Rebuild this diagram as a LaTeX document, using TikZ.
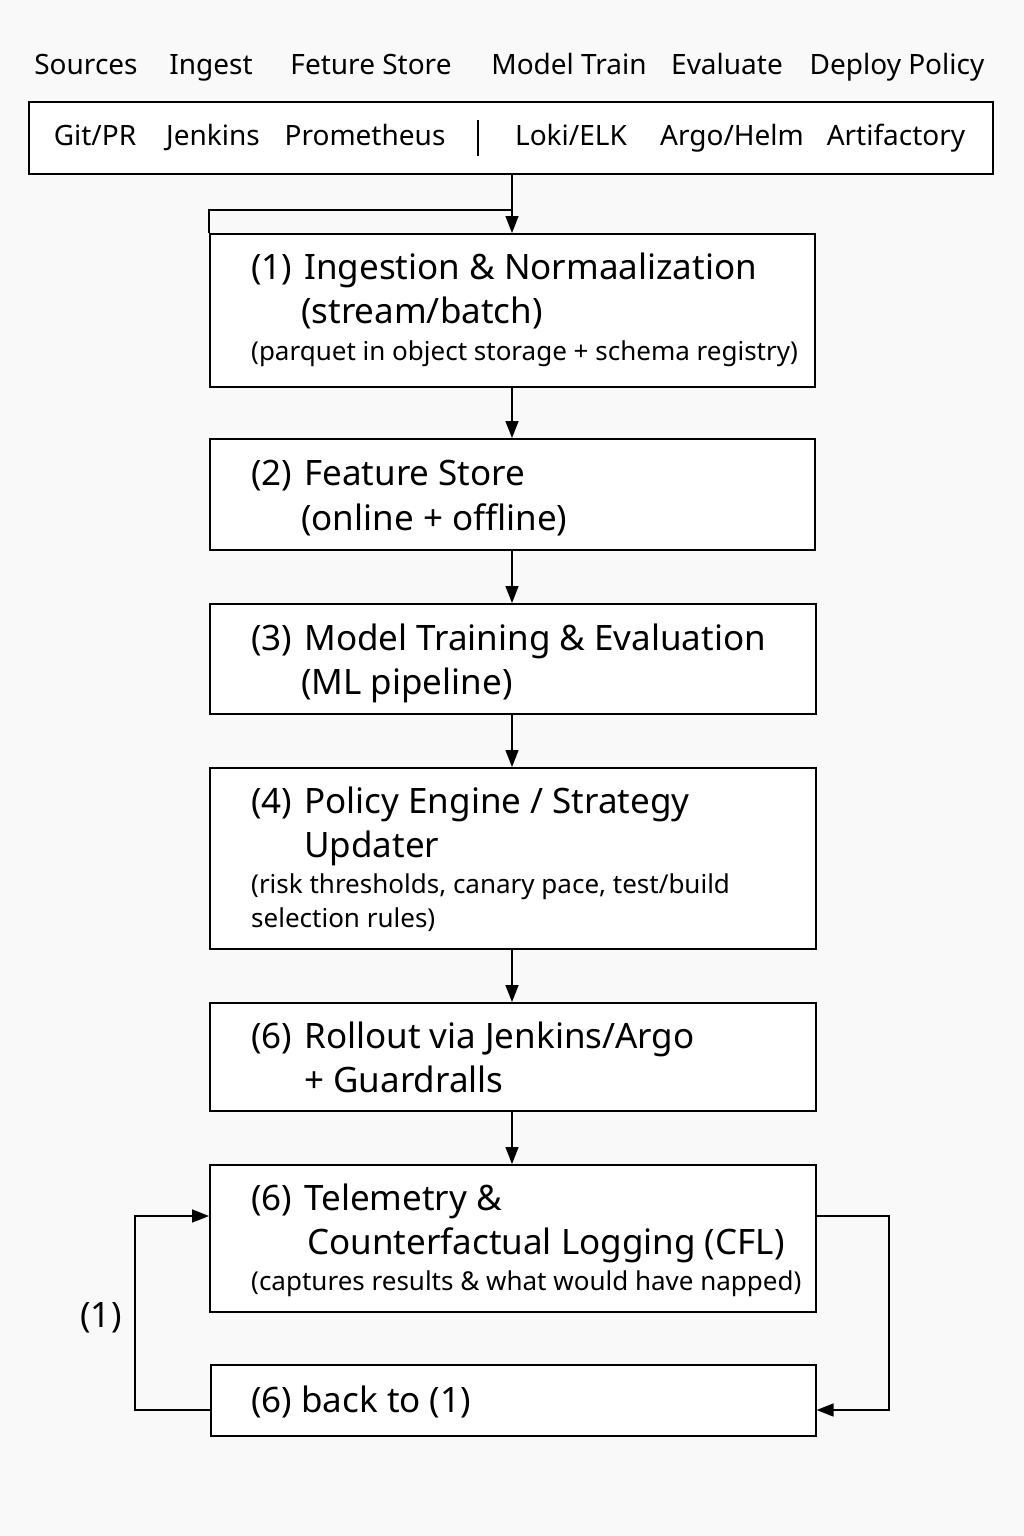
\documentclass[tikz,border=0pt]{standalone}
\usepackage{fontspec}
\setmainfont{Noto Sans}
\usetikzlibrary{arrows.meta}
\definecolor{bgc}{HTML}{F9F9F9}
\tikzset{
  box/.style={draw=black, line width=1.6pt, anchor=north west, inner sep=0pt, fill=white},
  hdr/.style={inner sep=0pt, text height=20pt, text depth=0pt, anchor=center, font=\fontsize{28}{32}\selectfont},
  big/.style={inner sep=0pt, text height=24pt, text depth=0pt, anchor=west, font=\fontsize{35}{40}\selectfont},
  small/.style={inner sep=0pt, text height=15pt, text depth=0pt, anchor=west, font=\fontsize{26}{30}\selectfont},
  conn/.style={line width=1.6pt, -{Triangle[length=17pt,width=13pt]}},
  plain/.style={line width=1.6pt}
}
\begin{document}
\begin{tikzpicture}[x=1pt,y=-1pt]
\fill[bgc] (0,0) rectangle (1024,1536);
\useasboundingbox (0,0) rectangle (1024,1536);
% header
\node[hdr] (h1) at (86,65) {Sources};
\node[hdr] (h2) at (211,65) {Ingest};
\node[hdr] (h3) at (371,65) {Feture Store};
\node[hdr] (h4) at (569,65) {Model Train};
\node[hdr] (h5) at (727,65) {Evaluate};
\node[hdr] (h6) at (897,65) {Deploy Policy};
% tools box
\node[box, minimum width=964pt, minimum height=72pt] (tools) at (28,101) {};
\node[hdr] (t1) at (95,136) {Git/PR};
\node[hdr] (t2) at (213,136) {Jenkins};
\node[hdr] (t3) at (365,136) {Prometheus};
\coordinate (sepA) at (478,120);
\coordinate (sepB) at (478,156);
\draw[plain] (sepA) -- (sepB);
\node[hdr] (t4) at (571,136) {Loki/ELK};
\node[hdr] (t5) at (732,136) {Argo/Helm};
\node[hdr] (t6) at (896,136) {Artifactory};
% box 1
\node[box, minimum width=605pt, minimum height=153pt] (b1) at (209,233) {};
\coordinate (brA) at (209,233);
\coordinate (brB) at (209,210);
\coordinate (brC) at (512,210);
\draw[plain] (brA) -- (brB) -- (brC);
\node[big] (b1a) at (251,267) {(1)\hspace{3pt} Ingestion \& Normaalization};
\node[big] (b1b) at (301,311) {(stream/batch)};
\node[small] (b1c) at (251,353) {(parquet in object storage + schema registry)};
% box 2
\node[box, minimum width=605pt, minimum height=111pt] (b2) at (209,438) {};
\node[big] (b2a) at (251,473) {(2)\hspace{3pt} Feature Store};
\node[big] (b2b) at (301,518) {(online + offline)};
% box 3
\node[box, minimum width=606pt, minimum height=110pt] (b3) at (209,603) {};
\node[big] (b3a) at (251,638) {(3)\hspace{3pt} Model Training \& Evaluation};
\node[big] (b3b) at (301,682) {(ML pipeline)};
% box 4
\node[box, minimum width=606pt, minimum height=181pt] (b4) at (209,767) {};
\node[big] (b4a) at (251,801) {(4)\hspace{3pt} Policy Engine / Strategy};
\node[big] (b4b) at (304,845) {Updater};
\node[small] (b4c) at (251,886) {(risk thresholds, canary pace, test/build};
\node[small] (b4d) at (251,920) {selection rules)};
% box 5
\node[box, minimum width=606pt, minimum height=108pt] (b5) at (209,1002) {};
\node[big] (b5a) at (251,1036) {(6)\hspace{3pt} Rollout via Jenkins/Argo};
\node[big] (b5b) at (304,1080) {+ Guardralls};
% box 6
\node[box, minimum width=606pt, minimum height=147pt] (b6) at (209,1164) {};
\node[big] (b6a) at (251,1198) {(6)\hspace{3pt} Telemetry \&};
\node[big] (b6b) at (307,1242) {Counterfactual Logging (CFL)};
\node[small] (b6c) at (251,1283) {(captures results \& what would have napped)};
% box 7
\node[box, minimum width=605pt, minimum height=71pt] (b7) at (210,1364) {};
\node[big] (b7a) at (251,1400) {(6) back to (1)};
% loop label
\node[big, anchor=center] (lbl) at (101,1315) {(1)};
% connectors
\draw[conn] (tools.south -| brC) -- (b1.north -| brC);
\draw[conn] (b1.south -| brC) -- (b2.north -| brC);
\draw[conn] (b2.south -| brC) -- (b3.north -| brC);
\draw[conn] (b3.south -| brC) -- (b4.north -| brC);
\draw[conn] (b4.south -| brC) -- (b5.north -| brC);
\draw[conn] (b5.south -| brC) -- (b6.north -| brC);
\coordinate (rA) at (889,1216);
\coordinate (rB) at (889,1410);
\draw[conn] (b6.east |- rA) -- (rA) -- (rB) -- (b7.east |- rB);
\coordinate (lA) at (135,1410);
\coordinate (lB) at (135,1216);
\draw[conn] (b7.west |- lA) -- (lA) -- (lB) -- (b6.west |- lB);
\end{tikzpicture}
\end{document}
